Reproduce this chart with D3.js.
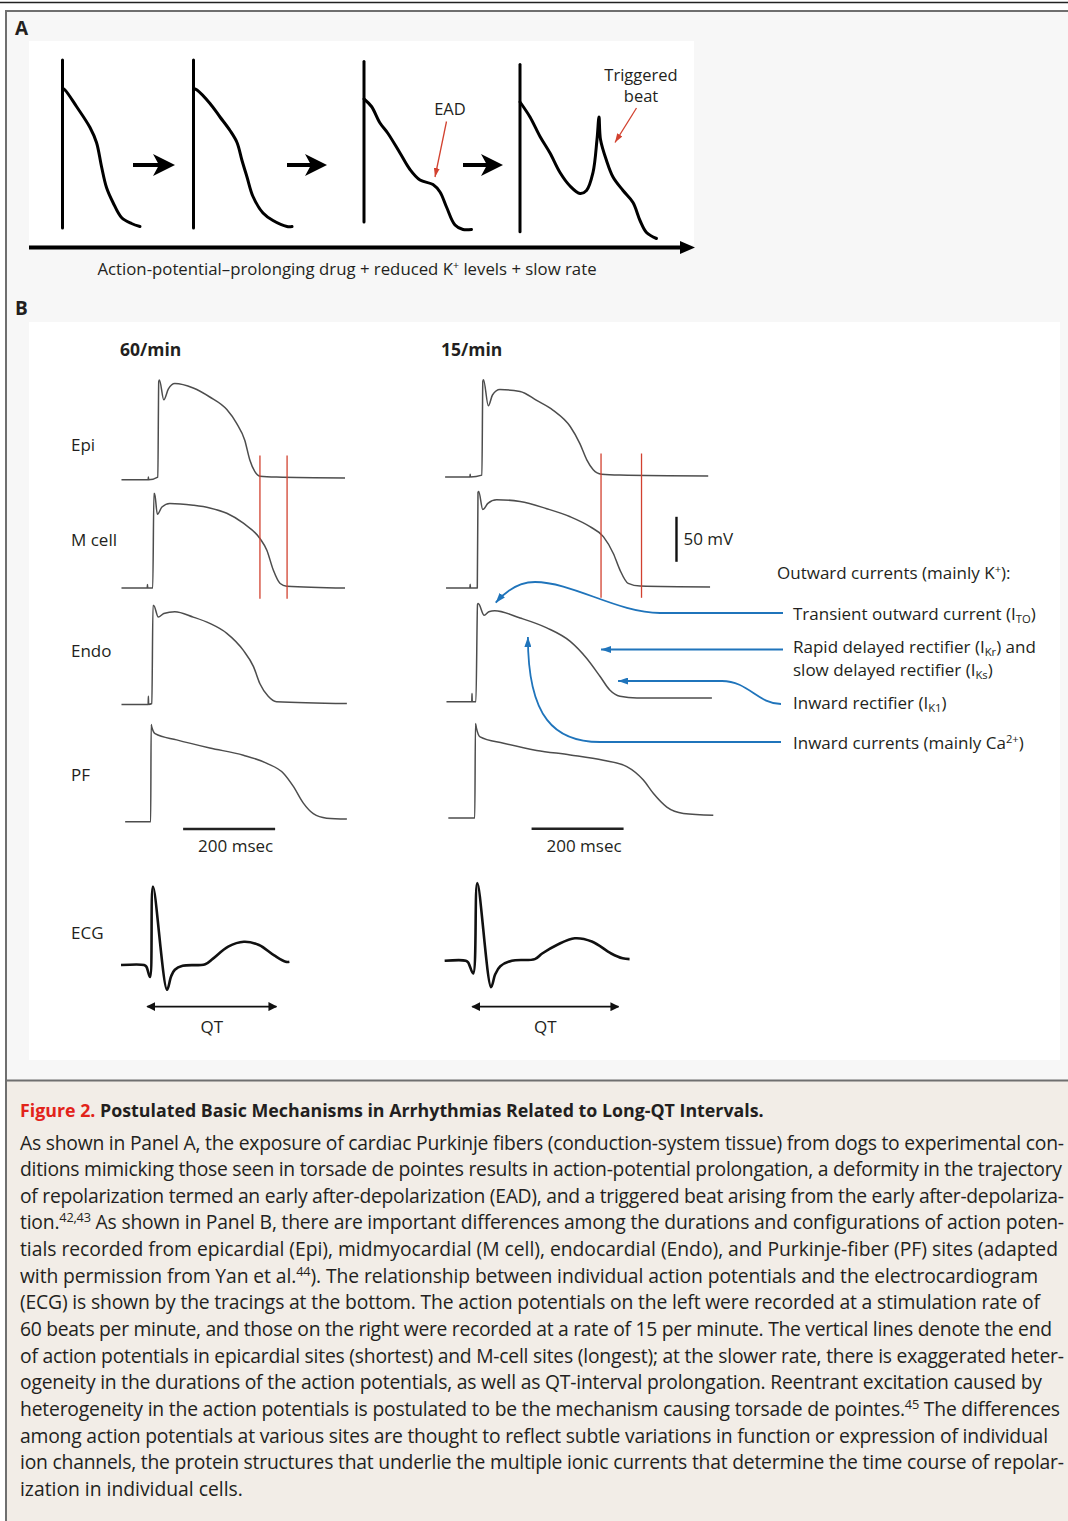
<!DOCTYPE html>
<html>
<head>
<meta charset="utf-8">
<script src="https://cdn.jsdelivr.net/npm/d3@7"></script>
<style>
  body { margin: 0; background: #fff; }
  svg { display: block; font-family: "Open Sans", "Noto Sans", sans-serif; }
</style>
</head>
<body>
<div id="chart"></div>
<script>
// ---------- data ----------
// Panel A: schematic action potentials, [time units after onset, mV]
const apOnsetA = [67, 329, 670, 982];
const apTopA = [27, 27, 26, 24];
const apBottomA = [-85, -85, -81, -87.5];
const apA1 = [[0,8],[5,7],[28,-4],[55,-18],[68,-28],[78,-44],[88,-58],[101,-68],[118,-78],[138,-82],[155,-84]];
const apA2 = [[0,8],[7,7],[33,-2],[53,-11],[73,-20],[87,-28],[97,-40],[107,-51],[119,-64],[139,-75],[159,-80],[187,-84],[197,-84]];
const apA3 = [[0,1],[15,-4],[32,-15],[48,-22],[72,-35],[92,-46],[112,-53],[138,-56],[152,-61],[165,-71],[182,-83],[198,-86],[215,-86]];
const apA4 = [[0,-1],[20,-11],[40,-24],[60,-35],[80,-48],[100,-57],[120,-62],[133,-60],[146,-48],[154,-26],[158,-11],[161,-26],[173,-40],[186,-51],[206,-60],[226,-68],[240,-80],[253,-88],[273,-92]];
const stepArrowsA = [[208, 292], [516, 596], [868, 948]];
const eadArrow = [[165,-14],[142,-51]];       // AP 3 coords
const triggeredArrow = [[233,-5],[190,-28]];  // AP 4 coords
const captionA = "Action-potential\u2013prolonging drug + reduced K^{+} levels + slow rate";

// Panel B: action potentials, [ms after column origin, mV]
const rates = ["60/min", "15/min"];
const sites = ["Epi", "M cell", "Endo", "PF"];
const epi60 = [[-62,-87],[-4,-87],[-3.5,-84],[-3,-87],[17,-84],[19,22],[20.5,24],[30,2],[40,14],[54,20],[94,15],[130,5],[167,-9],[188,-24],[206,-43],[217,-65],[228,-78],[239,-83],[275,-84],[424,-85]];
const mcell60 = [[-62,-85],[-6,-85],[-5.5,-81],[-5,-85],[6,-85],[8.5,20],[10,20],[16,-3],[26,5],[43,9],[94,7],[130,4],[167,-2],[203,-13],[239,-30],[254,-43],[268,-65],[283,-80],[297,-83],[424,-85]];
const endo60 = [[-62,-86],[-4,-86],[-3.5,-77],[-3,-86],[4,-85],[6.5,24],[8,24],[18,11],[30,15],[54,17],[94,11],[130,4],[167,-7],[203,-26],[225,-44],[239,-63],[257,-77],[275,-83],[428,-85]];
const pf60 = [[-54,-87],[1.5,-87],[2.5,21],[4,18],[11,11],[58,4],[130,-5],[203,-13],[254,-22],[290,-33],[312,-48],[333,-66],[355,-78],[384,-83],[428,-84]];
const epi15 = [[-65,-86],[-11,-86],[-10.5,-83],[-10,-86],[15,-84],[17,20],[18.5,22],[29,-7],[38,5],[54,11],[98,9],[134,-1],[170,-12],[207,-30],[228,-49],[243,-67],[257,-78],[275,-83],[315,-84],[507,-85]];
const mcell15 = [[-63,-86],[-11,-86],[-10.5,-82],[-10,-86],[5,-86],[6.5,20],[8,21],[17,1],[28,8],[47,12],[98,10],[156,2],[207,-7],[250,-18],[279,-29],[301,-48],[315,-66],[333,-81],[359,-84],[511,-85]];
const endo15 = [[-62,-88],[-7,-88],[-6.5,-79],[-6,-88],[2,-88],[5.5,20],[7,21],[20,8],[30,12],[43,13],[98,5],[156,-6],[207,-21],[243,-40],[272,-60],[293,-75],[315,-82],[352,-84],[515,-84]];
const pf15 = [[-58,-86],[-0.5,-86],[1,19],[3,14],[11,4],[62,-3],[134,-11],[207,-16],[279,-22],[330,-29],[366,-44],[388,-59],[417,-74],[453,-81],[518,-83]];
const epiEnd = [239, 274];   // ms, end of epicardial AP
const mEnd = [298, 362];     // ms, end of M-cell AP
const msBar = [[72, 272], [123, 323]];
const mvBar = [-57, -7];     // 50 mV
// ECG, [ms, mV]
const ecg60 = [[-63,0],[-13,0],[-8,-0.02],[0,-0.15],[6.5,0.98],[37,-0.31],[46,-0.14],[54,-0.06],[71,-0.01],[120,0.01],[137,0.08],[170,0.23],[204,0.29],[237,0.25],[270,0.12],[295,0.04],[303,0.04]];
const ecg15 = [[-66,0],[-20,0],[-15,-0.02],[-4,-0.16],[5,0.97],[35,-0.33],[44,-0.17],[55,-0.07],[80,0],[130,0.02],[146,0.09],[179,0.2],[217,0.28],[254,0.24],[296,0.09],[321,0.03],[336,0.02]];
const qt = [[-8, 277], [-8, 314]];

// ionic currents and where they act on the 15/min Endo trace
const currentTitle = "Outward currents (mainly K^{+}):";
const currents = [["Transient outward current (I_{TO})"], ["Rapid delayed rectifier (I_{Kr}) and", "slow delayed rectifier (I_{Ks})"], ["Inward rectifier (I_{K1})"], ["Inward currents (mainly Ca^{2+})"]];
const currentTips = { ito: [45, 22], ikr: [274, -31], ik1: [311, -65], ca: [115, -16] };

const figTitle = "Postulated Basic Mechanisms in Arrhythmias Related to Long-QT Intervals.";
const capLines = [
  "As shown in Panel A, the exposure of cardiac Purkinje fibers (conduction-system tissue) from dogs to experimental con-",
  "ditions mimicking those seen in torsade de pointes results in action-potential prolongation, a deformity in the trajectory",
  "of repolarization termed an early after-depolarization (EAD), and a triggered beat arising from the early after-depolariza-",
  "tion.^{42,43} As shown in Panel B, there are important differences among the durations and configurations of action poten-",
  "tials recorded from epicardial (Epi), midmyocardial (M cell), endocardial (Endo), and Purkinje-fiber (PF) sites (adapted",
  "with permission from Yan et al.^{44}). The relationship between individual action potentials and the electrocardiogram",
  "(ECG) is shown by the tracings at the bottom. The action potentials on the left were recorded at a stimulation rate of",
  "60 beats per minute, and those on the right were recorded at a rate of 15 per minute. The vertical lines denote the end",
  "of action potentials in epicardial sites (shortest) and M-cell sites (longest); at the slower rate, there is exaggerated heter-",
  "ogeneity in the durations of the action potentials, as well as QT-interval prolongation. Reentrant excitation caused by",
  "heterogeneity in the action potentials is postulated to be the mechanism causing torsade de pointes.^{45} The differences",
  "among action potentials at various sites are thought to reflect subtle variations in function or expression of individual",
  "ion channels, the protein structures that underlie the multiple ionic currents that determine the time course of repolar-",
  "ization in individual cells."
];

// ---------- layout ----------
const W = 1068, H = 1521;
const colX0 = [150, 475];          // pixel of t = 0 in each column
const pxPerMs = 0.46, pxPerMv = 0.9;
const rowBase = [[478, 588, 703.5, 820], [476, 587, 699, 817]];
const rowLabelY = [451, 546, 657, 781];
const ecgBase = [965, 960.7];
const qtLevel = [-0.52, -0.575];
const capEnds = [1064, 1062, 1064, 1064, 1058, 1038, 1040, 1052, 1064, 1042, 1060, 1048, 1064, null];
const ink = "#231f20", trace = "#4d4d4d", red = "#d2412f", blue = "#1f74bb";

const svg = d3.select("#chart").append("svg").attr("width", W).attr("height", H);

// rich text: ^{..} superscript, _{..} subscript
function rich(sel, str, fs) {
  str.split(/(\^\{[^}]*\}|_\{[^}]*\})/).forEach(p => {
    if (!p) return;
    const m = p.match(/^([\^_])\{([^}]*)\}$/);
    if (m) {
      sel.append("tspan").attr("font-size", fs * 0.66)
        .attr("baseline-shift", m[1] === "^" ? fs * 0.36 : -fs * 0.2).text(m[2]);
    } else {
      sel.append("tspan").text(p);
    }
  });
  return sel;
}

// ---------- frame and backgrounds ----------
svg.append("line").attr("x1", 0).attr("x2", W).attr("y1", 2.5).attr("y2", 2.5)
  .attr("stroke", "#222").attr("stroke-width", 1.3);
svg.append("rect").attr("x", 6).attr("y", 11).attr("width", W).attr("height", 1070).attr("fill", "#f7f7f7");
svg.append("rect").attr("x", 6).attr("y", 1081).attr("width", W).attr("height", H - 1081).attr("fill", "#f2ede7");
svg.append("path").attr("d", `M6,${H} V11 H${W}`).attr("fill", "none").attr("stroke", "#6f6f6f").attr("stroke-width", 2);
svg.append("line").attr("x1", 6).attr("x2", W).attr("y1", 1080.5).attr("y2", 1080.5)
  .attr("stroke", "#6f6f6f").attr("stroke-width", 2);
svg.append("rect").attr("x", 29).attr("y", 41).attr("width", 665).attr("height", 204).attr("fill", "#fff");
svg.append("rect").attr("x", 29).attr("y", 322).attr("width", 1031).attr("height", 738).attr("fill", "#fff");

svg.append("text").attr("x", 15).attr("y", 35).attr("font-weight", 700).attr("font-size", 19).attr("fill", ink).text("A");
svg.append("text").attr("x", 15).attr("y", 315).attr("font-weight", 700).attr("font-size", 19).attr("fill", ink).text("B");

// ---------- markers ----------
const defs = svg.append("defs");
function addMarker(id, d, w, h, refX, refY, fill, orient) {
  defs.append("marker").attr("id", id).attr("markerUnits", "userSpaceOnUse")
    .attr("markerWidth", w).attr("markerHeight", h).attr("refX", refX).attr("refY", refY)
    .attr("viewBox", `0 0 ${w} ${h}`).attr("orient", orient || "auto")
    .append("path").attr("d", d).attr("fill", fill);
}
addMarker("headA", "M0,0 L22,11 L0,22 L6,11 z", 22, 22, 12, 11, "#000");
addMarker("headAxis", "M0,0 L15,6.5 L0,13 z", 15, 13, 7, 6.5, "#000");
addMarker("headRed", "M0,0 L9,3 L0,6 z", 9, 6, 9, 3, red);
addMarker("headBlue", "M0,0 L10,3.5 L0,7 z", 10, 7, 10, 3.5, blue);
addMarker("headQT", "M0,0 L9,4.5 L0,9 z", 9, 9, 8, 4.5, "#111", "auto-start-reverse");

// ---------- panel A ----------
const xA = d3.scaleLinear().domain([0, 1330]).range([29, 694]);
const yA = d3.scaleLinear().domain([-85, 27]).range([228, 60]);
const gA = svg.append("g");
[apA1, apA2, apA3, apA4].forEach((ap, i) => {
  const on = apOnsetA[i];
  gA.append("line").attr("x1", xA(on)).attr("x2", xA(on))
    .attr("y1", yA(apBottomA[i])).attr("y2", yA(apTopA[i]))
    .attr("stroke", "#000").attr("stroke-width", 3).attr("stroke-linecap", "round");
  const line = d3.line().x(d => xA(on + d[0])).y(d => yA(d[1])).curve(d3.curveCatmullRom.alpha(0.5));
  gA.append("path").attr("d", line(ap)).attr("fill", "none").attr("stroke", "#000")
    .attr("stroke-width", 3).attr("stroke-linejoin", "round").attr("stroke-linecap", "round");
});
stepArrowsA.forEach(a => {
  gA.append("line").attr("x1", xA(a[0])).attr("x2", xA(a[1]) - 10)
    .attr("y1", yA(-43)).attr("y2", yA(-43)).attr("stroke", "#000").attr("stroke-width", 4)
    .attr("marker-end", "url(#headA)");
});
gA.append("line").attr("x1", xA(0)).attr("x2", xA(1332) - 8).attr("y1", yA(-98)).attr("y2", yA(-98))
  .attr("stroke", "#000").attr("stroke-width", 4).attr("marker-end", "url(#headAxis)");

function redArrow(on, seg) {
  gA.append("line").attr("x1", xA(on + seg[0][0])).attr("y1", yA(seg[0][1]))
    .attr("x2", xA(on + seg[1][0])).attr("y2", yA(seg[1][1]))
    .attr("stroke", red).attr("stroke-width", 1.3).attr("marker-end", "url(#headRed)");
}
redArrow(apOnsetA[2], eadArrow);
redArrow(apOnsetA[3], triggeredArrow);
gA.append("text").attr("x", xA(apOnsetA[2] + eadArrow[0][0]) + 3.5).attr("y", yA(eadArrow[0][1]) - 6.5)
  .attr("text-anchor", "middle").attr("font-size", 16.5).attr("fill", ink).text("EAD");
const tx = xA(apOnsetA[3] + triggeredArrow[0][0]) + 4.5, ty = yA(triggeredArrow[0][1]);
const trig = gA.append("text").attr("text-anchor", "middle").attr("font-size", 16.5).attr("fill", ink);
trig.append("tspan").attr("x", tx).attr("y", ty - 27).text("Triggered");
trig.append("tspan").attr("x", tx).attr("y", ty - 6.5).text("beat");

const capA = rich(gA.append("text").attr("x", 347).attr("y", 275).attr("text-anchor", "middle")
  .attr("font-size", 16).attr("fill", ink), captionA, 16);
const capAw = capA.node().getComputedTextLength();
capA.attr("font-size", 16 * 500 / capAw);

// ---------- panel B ----------
const gB = svg.append("g");
const xB = colX0.map(x0 => d3.scaleLinear().domain([0, 100]).range([x0, x0 + 100 * pxPerMs]));
const yB = base => d3.scaleLinear().domain([-85, 15]).range([base, base - 100 * pxPerMv]);
const traces = [[epi60, mcell60, endo60, pf60], [epi15, mcell15, endo15, pf15]];
const colTitleX = [120, 441];

rates.forEach((r, c) => {
  gB.append("text").attr("x", colTitleX[c]).attr("y", 356).attr("font-weight", 700)
    .attr("font-size", 17.5).attr("fill", ink).text(r);
  traces[c].forEach((tr, s) => {
    const y = yB(rowBase[c][s]);
    const line = d3.line().x(d => xB[c](d[0])).y(d => y(d[1])).curve(d3.curveMonotoneX);
    gB.append("path").attr("d", line(tr)).attr("fill", "none").attr("stroke", trace)
      .attr("stroke-width", 1.5).attr("stroke-linejoin", "round");
  });
  // end of repolarization: Epi and M cell
  const yEpi = yB(rowBase[c][0]), yM = yB(rowBase[c][1]);
  [epiEnd[c], mEnd[c]].forEach(t => {
    gB.append("line").attr("x1", xB[c](t)).attr("x2", xB[c](t))
      .attr("y1", yEpi(-60)).attr("y2", yM(-97)).attr("stroke", red).attr("stroke-width", 1.3);
  });
  // 200 msec bar
  const yPF = yB(rowBase[c][3]);
  const by = yPF(c === 0 ? -95 : -98);
  gB.append("line").attr("x1", xB[c](msBar[c][0])).attr("x2", xB[c](msBar[c][1]))
    .attr("y1", by).attr("y2", by).attr("stroke", "#222").attr("stroke-width", 2.6);
  gB.append("text").attr("x", xB[c]((msBar[c][0] + msBar[c][1]) / 2) + 6.5).attr("y", by + 23)
    .attr("text-anchor", "middle").attr("font-size", 17).attr("fill", ink).text("200 msec");

  // ECG
  const yE = d3.scaleLinear().domain([0, 1]).range([ecgBase[c], ecgBase[c] - 80]);
  const ecgLine = d3.line().x(d => xB[c](d[0])).y(d => yE(d[1])).curve(d3.curveCatmullRom.alpha(0.5));
  gB.append("path").attr("d", ecgLine(c === 0 ? ecg60 : ecg15)).attr("fill", "none")
    .attr("stroke", "#111").attr("stroke-width", 2.6).attr("stroke-linejoin", "round");
  const qy = yE(qtLevel[c]);
  gB.append("line").attr("x1", xB[c](qt[c][0]) + 1).attr("x2", xB[c](qt[c][1]) - 1)
    .attr("y1", qy).attr("y2", qy).attr("stroke", "#111").attr("stroke-width", 1.8)
    .attr("marker-start", "url(#headQT)").attr("marker-end", "url(#headQT)");
  gB.append("text").attr("x", xB[c]((qt[c][0] + qt[c][1]) / 2)).attr("y", qy + 26)
    .attr("text-anchor", "middle").attr("font-size", 17).attr("fill", ink).text("QT");
});

sites.forEach((s, i) => {
  gB.append("text").attr("x", 71).attr("y", rowLabelY[i]).attr("font-size", 17).attr("fill", ink).text(s);
});
gB.append("text").attr("x", 71).attr("y", 939).attr("font-size", 17).attr("fill", ink).text("ECG");

// 50 mV bar on the 15/min M-cell row
const yM15 = yB(rowBase[1][1]);
const mvx = xB[1](438);
gB.append("line").attr("x1", mvx).attr("x2", mvx).attr("y1", yM15(mvBar[0])).attr("y2", yM15(mvBar[1]))
  .attr("stroke", "#111").attr("stroke-width", 2.4);
gB.append("text").attr("x", mvx + 7).attr("y", (yM15(mvBar[0]) + yM15(mvBar[1])) / 2 + 6)
  .attr("font-size", 17).attr("fill", ink).text("50 mV");

// ---------- ionic current annotations ----------
const yEndo15 = yB(rowBase[1][2]);
const tip = k => [xB[1](currentTips[k][0]), yEndo15(currentTips[k][1])];
const lineX = 783, textX = 793;
const cY = [613, 649.5, 704, 742];
const gC = svg.append("g").attr("fill", "none").attr("stroke", blue).attr("stroke-width", 1.8);
let p, t;
t = tip("ito");
p = d3.path(); p.moveTo(lineX, cY[0]); p.lineTo(660, cY[0]);
p.bezierCurveTo(618, cY[0], 572, 582, 535, 582); p.bezierCurveTo(517, 582, 505, 592, t[0], t[1]);
gC.append("path").attr("d", p.toString()).attr("marker-end", "url(#headBlue)");
t = tip("ikr");
gC.append("line").attr("x1", lineX).attr("y1", cY[1]).attr("x2", t[0]).attr("y2", cY[1]).attr("marker-end", "url(#headBlue)");
t = tip("ik1");
p = d3.path(); p.moveTo(lineX - 2, cY[2]); p.bezierCurveTo(758, cY[2], 748, t[1], 722, t[1]); p.lineTo(t[0], t[1]);
gC.append("path").attr("d", p.toString()).attr("marker-end", "url(#headBlue)");
t = tip("ca");
p = d3.path(); p.moveTo(lineX - 2, cY[3]); p.lineTo(600, cY[3]);
p.bezierCurveTo(555, cY[3], t[0], 718, t[0], t[1]);
gC.append("path").attr("d", p.toString()).attr("marker-end", "url(#headBlue)");

rich(svg.append("text").attr("x", 777).attr("y", 579).attr("font-size", 17).attr("fill", ink), currentTitle, 17);
const labelY = [[620], [653, 676], [708.5], [748.5]];
currents.forEach((lines, i) => {
  const tEl = svg.append("text").attr("font-size", 17).attr("fill", ink);
  lines.forEach((s, j) => rich(tEl.append("tspan").attr("x", textX).attr("y", labelY[i][j]), s, 17));
});

// ---------- caption ----------
const title = svg.append("text").attr("x", 20).attr("y", 1117).attr("font-weight", 700).attr("font-size", 18);
title.append("tspan").attr("fill", "#e2231a").text("Figure 2. ");
title.append("tspan").attr("fill", ink).text(figTitle);
title.attr("font-size", 18 * 744 / title.node().getComputedTextLength());

const probe = svg.append("text").attr("font-size", 19).text(capLines[capLines.length - 1]);
const capFs = 19 * 223 / probe.node().getComputedTextLength();
probe.remove();
const gCap = svg.append("g").attr("font-size", capFs).attr("fill", ink);
capLines.forEach((s, i) => {
  const tEl = rich(gCap.append("text").attr("x", 20).attr("y", 1149.5 + i * 26.65), s, capFs);
  if (capEnds[i]) tEl.attr("textLength", capEnds[i] - 20).attr("lengthAdjust", "spacing");
});
</script>
</body>
</html>
